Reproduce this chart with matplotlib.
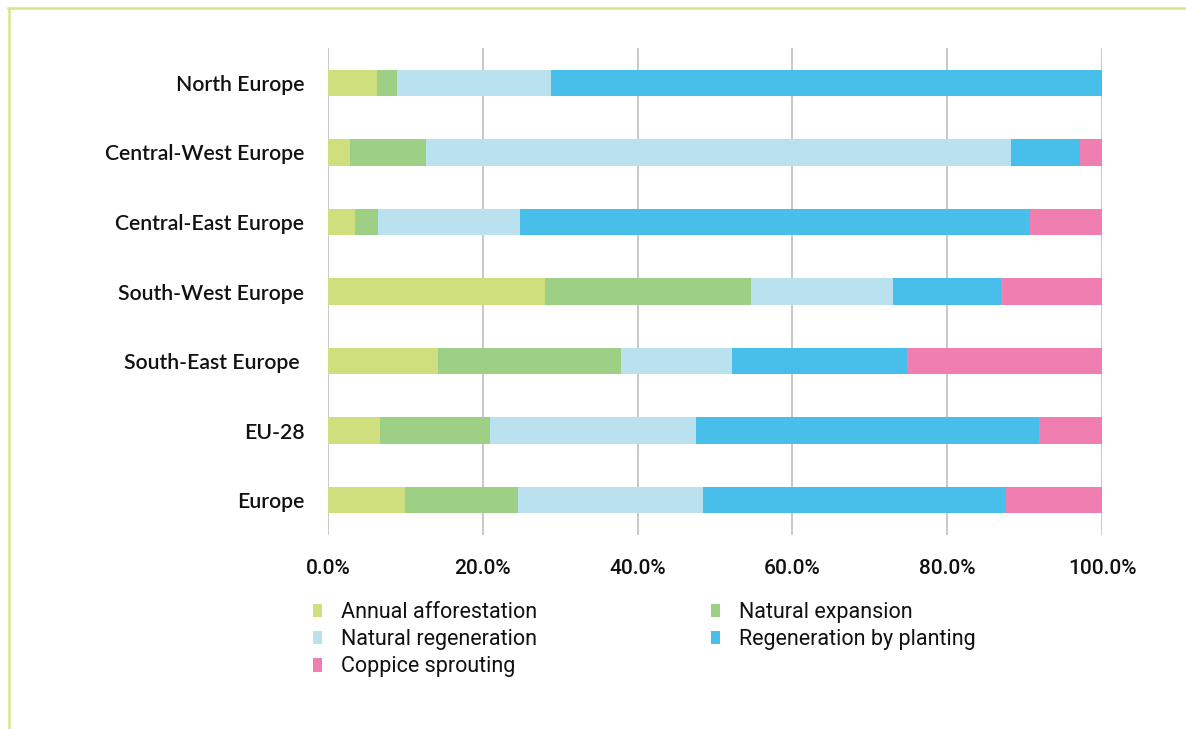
import matplotlib
matplotlib.use("Agg")
import matplotlib.pyplot as plt
import numpy as np
from matplotlib.patches import Patch
from matplotlib.lines import Line2D
from matplotlib.ticker import FuncFormatter

regions = ["North Europe", "Central-West Europe", "Central-East Europe",
           "South-West Europe", "South-East Europe ", "EU-28", "Europe"]

# shares in percent per region, same order as regions
afforestation = [6.3, 2.8, 3.5, 28.0, 14.2, 6.7, 9.9]
expansion = [2.6, 9.9, 3.0, 26.7, 23.7, 14.2, 14.7]
natural_regen = [19.9, 75.6, 18.3, 18.3, 14.3, 26.7, 23.9]
planting = [71.2, 8.9, 65.9, 14.0, 22.6, 44.3, 39.1]
coppice = [0.0, 2.8, 9.3, 13.0, 25.2, 8.1, 12.4]

series = [
    ("Annual afforestation", afforestation, "#cfdf7d"),
    ("Natural expansion", expansion, "#9dcf85"),
    ("Natural regeneration", natural_regen, "#b9e2ee"),
    ("Regeneration by planting", planting, "#47bfea"),
    ("Coppice sprouting", coppice, "#f07eb0"),
]

W, H = 1186, 729
fig = plt.figure(figsize=(W / 100, H / 100), dpi=100)
ax = fig.add_axes([328 / W, 1 - 535 / H, (1102 - 328) / W, (535 - 48) / H])

y = np.arange(len(regions))
left = np.zeros(len(regions))
handles = {}
for name, vals, col in series:
    vals = np.array(vals)
    ax.barh(y, vals, left=left, height=0.38, color=col, zorder=3)
    left += vals
    handles[name] = Patch(facecolor=col, edgecolor="none", label=name)

ax.set_xlim(0, 100)
ax.set_ylim(len(regions) - 0.5, -0.5)
ax.set_yticks(y)
ax.set_yticklabels(regions, fontfamily="Lato", fontsize=15.3, fontweight="semibold",
                   color="#111111")
ax.set_xticks(np.arange(0, 101, 20))
ax.xaxis.set_major_formatter(FuncFormatter(lambda v, p: f"{v:.1f}%"))
for lab in ax.get_xticklabels():
    lab.set_fontfamily("Roboto")
    lab.set_fontsize(15)
    lab.set_fontweight("medium")
    lab.set_color("#111111")
ax.tick_params(axis="x", length=0, pad=17)
ax.tick_params(axis="y", length=0, pad=17)
ax.grid(axis="x", color="#c4c4c4", linewidth=1.3, zorder=0)
for s in ax.spines.values():
    s.set_visible(False)

leg_font = {"family": "Roboto", "size": 15.5}
col1 = [handles["Annual afforestation"], handles["Natural regeneration"], handles["Coppice sprouting"]]
col2 = [handles["Natural expansion"], handles["Regeneration by planting"]]
leg_kw = dict(loc="upper left", frameon=False, prop=leg_font, handlelength=0.4,
              handleheight=0.6, handletextpad=0.9, labelspacing=0.29, borderpad=0,
              borderaxespad=0, labelcolor="#111111")
fig.legend(handles=col1, bbox_to_anchor=(313 / W, 1 - 602 / H), **leg_kw)
fig.legend(handles=col2, bbox_to_anchor=(711 / W, 1 - 602 / H), **leg_kw)

# thin green frame along the top and left edges
frame = "#d3e78a"
fig.add_artist(Line2D([8 / W, 1], [1 - 8 / H, 1 - 8 / H], color=frame, lw=1.8))
fig.add_artist(Line2D([8.5 / W, 8.5 / W], [0, 1 - 8 / H], color=frame, lw=1.8))

fig.savefig("out.png", dpi=100, facecolor="white")
